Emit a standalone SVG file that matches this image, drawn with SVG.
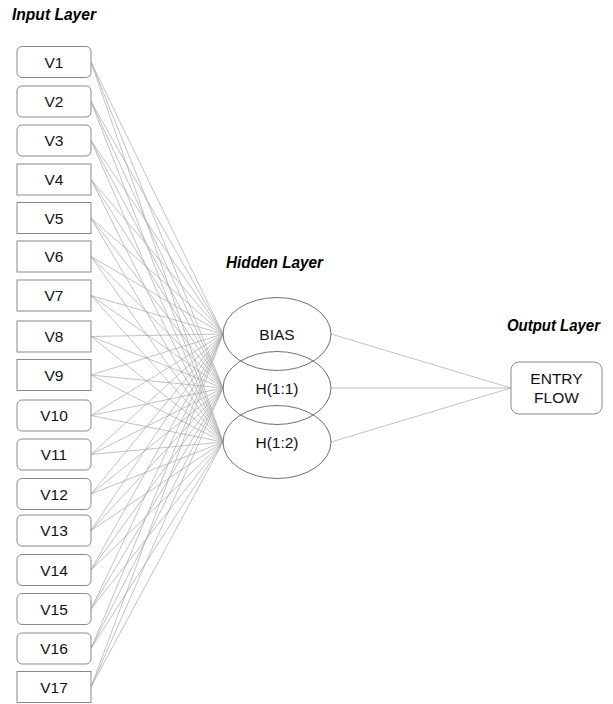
<svg xmlns="http://www.w3.org/2000/svg" width="613" height="704" viewBox="0 0 613 704">
<style>
.bg{fill:#fff}
.box{fill:#fff;stroke:#8a8a8a;stroke-width:1}
.ell{fill:none;stroke:#707070;stroke-width:1}
.t{font-family:"Liberation Sans",Arial,sans-serif;font-size:15.5px;fill:#111;text-anchor:middle}
.h{font-family:"Liberation Sans",Arial,sans-serif;font-size:17px;font-weight:bold;font-style:italic;fill:#000}
.c line{stroke:#a8a8a8;stroke-width:0.7}
</style>
<rect class="bg" width="613" height="704"/>
<text class="h" x="12" y="20" textLength="84" lengthAdjust="spacingAndGlyphs">Input Layer</text>
<text class="h" x="226" y="268" textLength="97" lengthAdjust="spacingAndGlyphs">Hidden Layer</text>
<text class="h" x="507" y="331" textLength="93" lengthAdjust="spacingAndGlyphs">Output Layer</text>
<g id="connectors" class="c">
<line x1="91" y1="62" x2="223" y2="334"/><line x1="91" y1="62" x2="223" y2="388"/><line x1="91" y1="62" x2="223" y2="442"/>
<line x1="91" y1="101.5" x2="223" y2="334"/><line x1="91" y1="101.5" x2="223" y2="388"/><line x1="91" y1="101.5" x2="223" y2="442"/>
<line x1="91" y1="140.5" x2="223" y2="334"/><line x1="91" y1="140.5" x2="223" y2="388"/><line x1="91" y1="140.5" x2="223" y2="442"/>
<line x1="91" y1="179.5" x2="223" y2="334"/><line x1="91" y1="179.5" x2="223" y2="388"/><line x1="91" y1="179.5" x2="223" y2="442"/>
<line x1="91" y1="218" x2="223" y2="334"/><line x1="91" y1="218" x2="223" y2="388"/><line x1="91" y1="218" x2="223" y2="442"/>
<line x1="91" y1="256.5" x2="223" y2="334"/><line x1="91" y1="256.5" x2="223" y2="388"/><line x1="91" y1="256.5" x2="223" y2="442"/>
<line x1="91" y1="295.5" x2="223" y2="334"/><line x1="91" y1="295.5" x2="223" y2="388"/><line x1="91" y1="295.5" x2="223" y2="442"/>
<line x1="91" y1="336.5" x2="223" y2="334"/><line x1="91" y1="336.5" x2="223" y2="388"/><line x1="91" y1="336.5" x2="223" y2="442"/>
<line x1="91" y1="375" x2="223" y2="334"/><line x1="91" y1="375" x2="223" y2="388"/><line x1="91" y1="375" x2="223" y2="442"/>
<line x1="91" y1="415.5" x2="223" y2="334"/><line x1="91" y1="415.5" x2="223" y2="388"/><line x1="91" y1="415.5" x2="223" y2="442"/>
<line x1="91" y1="454.5" x2="223" y2="334"/><line x1="91" y1="454.5" x2="223" y2="388"/><line x1="91" y1="454.5" x2="223" y2="442"/>
<line x1="91" y1="494" x2="223" y2="334"/><line x1="91" y1="494" x2="223" y2="388"/><line x1="91" y1="494" x2="223" y2="442"/>
<line x1="91" y1="530.5" x2="223" y2="334"/><line x1="91" y1="530.5" x2="223" y2="388"/><line x1="91" y1="530.5" x2="223" y2="442"/>
<line x1="91" y1="570" x2="223" y2="334"/><line x1="91" y1="570" x2="223" y2="388"/><line x1="91" y1="570" x2="223" y2="442"/>
<line x1="91" y1="609" x2="223" y2="334"/><line x1="91" y1="609" x2="223" y2="388"/><line x1="91" y1="609" x2="223" y2="442"/>
<line x1="91" y1="648.5" x2="223" y2="334"/><line x1="91" y1="648.5" x2="223" y2="388"/><line x1="91" y1="648.5" x2="223" y2="442"/>
<line x1="91" y1="687" x2="223" y2="334"/><line x1="91" y1="687" x2="223" y2="388"/><line x1="91" y1="687" x2="223" y2="442"/>
<line x1="331" y1="334" x2="511" y2="388"/><line x1="331" y1="388" x2="511" y2="388"/><line x1="331" y1="442" x2="511" y2="388"/>
</g>
<g id="V1"><rect class="box" x="17" y="46.5" width="74" height="31" rx="5"/><text class="t" x="54" y="67.5">V1</text></g>
<g id="V2"><rect class="box" x="17" y="86" width="74" height="31" rx="5"/><text class="t" x="54" y="107">V2</text></g>
<g id="V3"><rect class="box" x="17" y="125" width="74" height="31" rx="5"/><text class="t" x="54" y="146">V3</text></g>
<g id="V4"><rect class="box" x="17" y="164" width="74" height="31"/><text class="t" x="54" y="185">V4</text></g>
<g id="V5"><rect class="box" x="17" y="202.5" width="74" height="31"/><text class="t" x="54" y="223.5">V5</text></g>
<g id="V6"><rect class="box" x="17" y="241" width="74" height="31"/><text class="t" x="54" y="262">V6</text></g>
<g id="V7"><rect class="box" x="17" y="280" width="74" height="31"/><text class="t" x="54" y="301">V7</text></g>
<g id="V8"><rect class="box" x="17" y="321" width="74" height="31"/><text class="t" x="54" y="342">V8</text></g>
<g id="V9"><rect class="box" x="17" y="359.5" width="74" height="31"/><text class="t" x="54" y="380.5">V9</text></g>
<g id="V10"><rect class="box" x="17" y="400" width="74" height="31" rx="5"/><text class="t" x="54" y="421">V10</text></g>
<g id="V11"><rect class="box" x="17" y="439" width="74" height="31" rx="5"/><text class="t" x="54" y="460">V11</text></g>
<g id="V12"><rect class="box" x="17" y="478.5" width="74" height="31" rx="5"/><text class="t" x="54" y="499.5">V12</text></g>
<g id="V13"><rect class="box" x="17" y="515" width="74" height="31" rx="5"/><text class="t" x="54" y="536">V13</text></g>
<g id="V14"><rect class="box" x="17" y="554.5" width="74" height="31" rx="5"/><text class="t" x="54" y="575.5">V14</text></g>
<g id="V15"><rect class="box" x="17" y="593.5" width="74" height="31" rx="5"/><text class="t" x="54" y="614.5">V15</text></g>
<g id="V16"><rect class="box" x="17" y="633" width="74" height="31" rx="5"/><text class="t" x="54" y="654">V16</text></g>
<g id="V17"><rect class="box" x="17" y="671.5" width="74" height="31"/><text class="t" x="54" y="692.5">V17</text></g>
<g id="BIAS"><ellipse class="ell" cx="277" cy="334" rx="54" ry="36.5"/><text class="t" x="277" y="339.5">BIAS</text></g>
<g id="H11"><ellipse class="ell" cx="277" cy="388" rx="54" ry="36.5"/><text class="t" x="277" y="393.5">H(1:1)</text></g>
<g id="H12"><ellipse class="ell" cx="277" cy="442" rx="54" ry="36.5"/><text class="t" x="277" y="447.5">H(1:2)</text></g>
<g id="ENTRY_FLOW"><rect class="box" x="511" y="362" width="91" height="52" rx="8"/><text class="t" x="556.5" y="384">ENTRY</text><text class="t" x="556.5" y="403">FLOW</text></g>
</svg>
